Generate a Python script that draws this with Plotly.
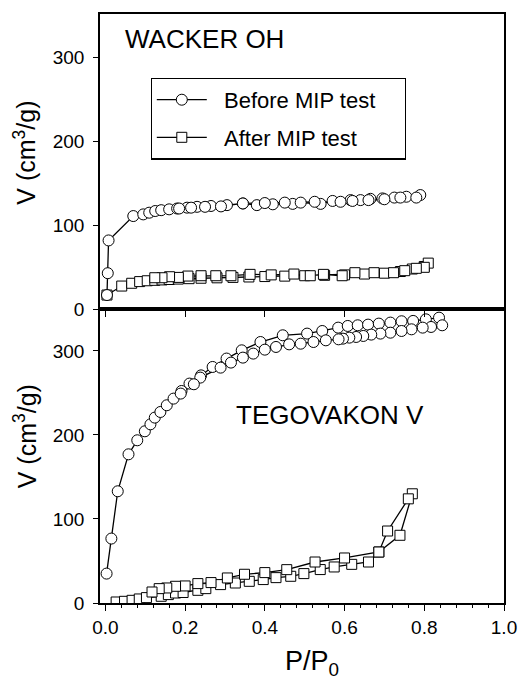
import plotly.graph_objects as go

# ---------------- data ----------------
# Top panel: WACKER OH
top_before_p = [0.004, 0.006, 0.008, 0.07, 0.095, 0.11, 0.125, 0.14, 0.16, 0.18, 0.205, 0.23, 0.265,
                0.305, 0.345, 0.38, 0.42, 0.47, 0.49, 0.54, 0.57, 0.615, 0.64, 0.665, 0.695, 0.725,
                0.755, 0.79, 0.78, 0.74, 0.70, 0.66, 0.62, 0.59, 0.525, 0.45, 0.40, 0.345, 0.29,
                0.25, 0.215, 0.185]
top_before_v = [17, 43, 82, 111, 113, 115, 117, 118, 119, 120, 121, 122, 123,
                124, 126, 124, 125, 125.5, 127, 125.5, 129, 130, 130, 131.5, 132, 133,
                134, 136, 133, 133, 131, 130, 129, 128, 128, 127, 126.5, 126, 122.5,
                122, 121, 120]

top_after_p = [0.004, 0.041, 0.066, 0.086, 0.105, 0.124, 0.142, 0.16, 0.183, 0.21, 0.24, 0.28,
               0.32, 0.36, 0.40, 0.45, 0.50, 0.55, 0.60, 0.65, 0.70, 0.74, 0.77, 0.80, 0.81,
               0.80, 0.78, 0.751, 0.723, 0.674, 0.626, 0.594, 0.547, 0.514, 0.473, 0.416,
               0.363, 0.315, 0.277, 0.24, 0.207, 0.183, 0.161, 0.142, 0.124]
top_after_v = [17, 27.7, 31, 33, 34, 34.5, 35, 35.5, 36, 36.5, 37, 37.5,
               38, 38.5, 39, 39.5, 40, 40.5, 41, 42, 43, 45, 48, 51, 55,
               50, 48.8, 46, 43.6, 43.6, 43.6, 40, 41.6, 40, 42, 41,
               41.6, 40, 40, 40, 39.6, 38, 38.8, 37.6, 37.6]

# Bottom panel: TEGOVAKON V
bot_before_p = [0.003, 0.015, 0.031, 0.058, 0.08, 0.099, 0.113, 0.124, 0.138, 0.154, 0.171, 0.191,
                0.211, 0.24, 0.269, 0.304, 0.342, 0.389, 0.445, 0.506, 0.544, 0.584, 0.608, 0.633,
                0.659, 0.686, 0.715, 0.743, 0.772, 0.804, 0.837, 0.845, 0.817, 0.796, 0.768,
                0.743, 0.715, 0.69, 0.667, 0.647, 0.629, 0.612, 0.596, 0.585, 0.553, 0.522,
                0.49, 0.461, 0.428, 0.4, 0.371, 0.345, 0.315, 0.289, 0.238, 0.222, 0.189]
bot_before_v = [35, 76.7, 133, 177, 193.7, 204.4, 212.7, 220.7, 227.4, 235.4, 243.3, 252.4,
                261.2, 271, 281, 291, 300.8, 310.7, 318.7, 320.7, 323.8, 327.8, 329.8, 330.6,
                331.4, 332.6, 333.8, 335.4, 335.8, 337.7, 339.7, 330.6, 328.6, 327.8, 325.8,
                323.8, 321.8, 320.7, 319.5, 317.9, 316.7, 315.9, 314.7, 313.9, 312.7, 310.7,
                308.7, 307.9, 304.8, 301.6, 296.9, 292.1, 286.2, 280.2, 268.3, 260.4, 249.3]

bot_after_p = [0.027, 0.048, 0.067, 0.085, 0.103, 0.14, 0.158, 0.176, 0.195, 0.232, 0.252, 0.289,
               0.326, 0.361, 0.396, 0.428, 0.465, 0.498, 0.539, 0.574, 0.618, 0.66, 0.686,
               0.739, 0.77, 0.76, 0.708, 0.686, 0.6, 0.526, 0.455, 0.4, 0.349, 0.306, 0.265,
               0.232, 0.2, 0.176, 0.154, 0.135, 0.117]
bot_after_v = [1.2, 2, 3.2, 4.8, 6.4, 8, 10, 11.9, 12.5, 15.1, 17.1, 21.9,
               23.8, 25.8, 27.9, 30.2, 31.8, 35, 39.8, 42.9, 46, 48.8, 60.7,
               80.6, 130, 124, 85.7, 60.7, 53.6, 48.8, 39.7, 36.2, 34.2, 29.8, 24.3,
               23.1, 20.3, 19.9, 17.9, 17.1, 13.1]

series_names = ["Before MIP test", "After MIP test"]
panel_labels = ["WACKER OH", "TEGOVAKON V"]
x_ticks = [0.0, 0.2, 0.4, 0.6, 0.8, 1.0]
y_ticks = [0, 100, 200, 300]

# ---------------- figure ----------------
FONT = "Liberation Sans, Arial, sans-serif"
line_style = dict(color="black", width=1.3)
circ = dict(symbol="circle", size=11, color="white", line=dict(color="black", width=1))
sq = dict(symbol="square", size=10, color="white", line=dict(color="black", width=1))
NB = "\u00a0"

fig = go.Figure()
# top panel (xaxis2 / yaxis2)
fig.add_trace(go.Scatter(x=top_after_p, y=top_after_v, mode="lines+markers",
                         name=NB + NB + series_names[1] + NB * 4,
                         line=line_style, marker=sq, xaxis="x2", yaxis="y2",
                         legendgroup="b", legendrank=2))
fig.add_trace(go.Scatter(x=top_before_p, y=top_before_v, mode="lines+markers",
                         name=NB + NB + series_names[0] + NB * 4,
                         line=line_style, marker=circ, xaxis="x2", yaxis="y2",
                         legendgroup="a", legendrank=1))
# bottom panel
fig.add_trace(go.Scatter(x=bot_after_p, y=bot_after_v, mode="lines+markers", name=series_names[1],
                         line=line_style, marker=sq, showlegend=False))
fig.add_trace(go.Scatter(x=bot_before_p, y=bot_before_v, mode="lines+markers", name=series_names[0],
                         line=line_style, marker=circ, showlegend=False))

split = 0.4986
axis_common = dict(showline=True, linecolor="black", linewidth=1.5, mirror=True,
                   showgrid=False, zeroline=False, ticks="outside", tickcolor="black",
                   tickfont=dict(family=FONT, size=19, color="black"))

fig.update_layout(
    width=529, height=679,
    margin=dict(l=100, r=16, t=14, b=76),
    paper_bgcolor="white", plot_bgcolor="white",
    font=dict(family=FONT, color="black"),
    xaxis=dict(**axis_common, range=[-0.0135, 1.0], tickvals=x_ticks, tickformat=".1f",
               ticklen=6, tickwidth=1.3, anchor="y",
               minor=dict(dtick=0.04, tick0=0, ticks="outside", ticklen=3, tickcolor="black", tickwidth=1)),
    yaxis=dict(**axis_common, range=[0, 349.6], tickvals=y_ticks, ticklen=5, tickwidth=1.3,
               ticklabelstandoff=5, domain=[0, split], anchor="x"),
    xaxis2=dict(**axis_common, range=[-0.0135, 1.0], tickvals=x_ticks, showticklabels=False,
                ticklen=6, tickwidth=1.3, anchor="y2"),
    yaxis2=dict(**axis_common, range=[0, 351.5], tickvals=y_ticks, ticklen=5, tickwidth=1.3,
                ticklabelstandoff=5, domain=[split, 1], anchor="x2"),
    legend=dict(x=0.125, y=0.892, xanchor="left", yanchor="top", bordercolor="black",
                borderwidth=1.3, bgcolor="white", font=dict(family=FONT, size=22, color="black"),
                traceorder="grouped", tracegroupgap=6, itemwidth=50),
    showlegend=True,
)

ann_font = dict(family=FONT, size=26, color="black")
fig.add_annotation(text=panel_labels[0], xref="paper", yref="paper", x=0.0557, y=0.9576,
                   xanchor="left", yanchor="middle", showarrow=False, font=ann_font)
fig.add_annotation(text=panel_labels[1], xref="paper", yref="paper", x=0.331, y=0.3192,
                   xanchor="left", yanchor="middle", showarrow=False, font=ann_font)
ytitle = "V (cm<sup>3</sup>/g)"
for yy in [0.764, 0.2825]:
    fig.add_annotation(text=ytitle, xref="paper", yref="paper", x=-0.1865, y=yy,
                       xanchor="center", yanchor="middle", textangle=-90, showarrow=False,
                       font=dict(family=FONT, size=25, color="black"))
fig.add_annotation(text="P/P<sub>0</sub>", xref="paper", yref="paper", x=0.525, y=-0.102,
                   xanchor="center", yanchor="middle", showarrow=False,
                   font=dict(family=FONT, size=27, color="black"))

fig.write_html("out.html")
